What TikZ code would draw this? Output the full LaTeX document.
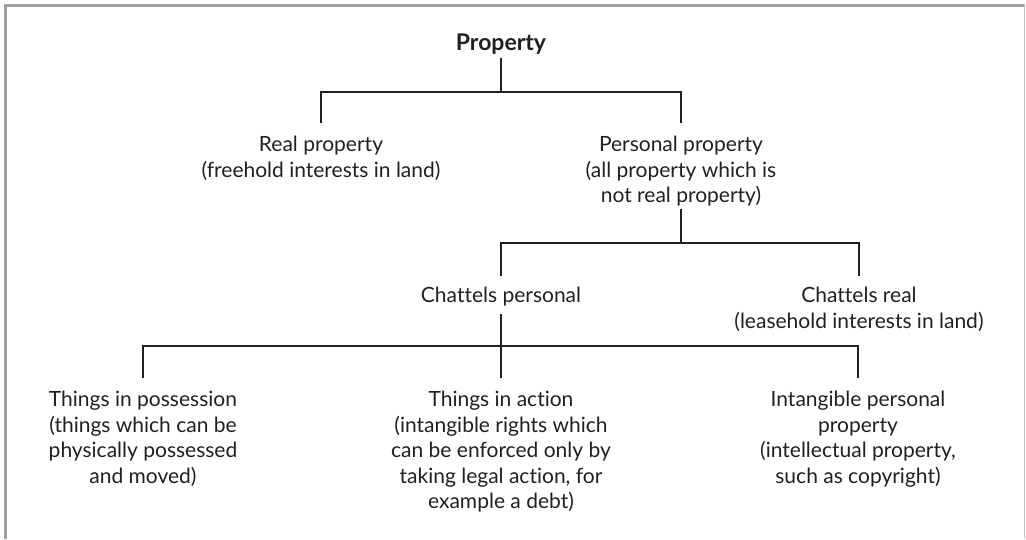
\documentclass[tikz,border=0pt]{standalone}
\usepackage{fontspec}
\setmainfont{Lato}[Ligatures={NoCommon,NoRare,NoDiscretionary}]
\usepackage{xcolor}
\usepackage{tikz}
\usetikzlibrary{positioning}
\definecolor{ink}{HTML}{231F20}
\definecolor{framegray}{HTML}{A0A0A0}

\begin{document}
\begin{tikzpicture}[x=1pt,y=-1pt,
  lbl/.style={align=center,anchor=north,inner sep=0pt,text=ink,font=\fontsize{21}{25.5}\selectfont},
  branch/.style={draw=ink,line width=1.2pt}]
\useasboundingbox(0,0)rectangle(1026,539);
\draw[framegray,line width=3pt](5.5,539)--(5.5,5)--(1025,5);
\draw[gray!45,line width=1pt](1024.5,5)--(1024.5,539);
\node[lbl,font=\bfseries\fontsize{23}{27}\selectfont](prop)at(501,34){Property};
\node[lbl](real)at(321,136){Real property\\(freehold interests in land)};
\node[lbl](pers)at(681,136){Personal property\\(all property which is\\not real property)};
\node[lbl](chp)at(501,287){Chattels personal};
\node[lbl](chr)at(859,287){Chattels real\\(leasehold interests in land)};
\node[lbl](poss)at(143,391){Things in possession\\(things which can be\\physically possessed\\and moved)};
\node[lbl](act)at(501,391){Things in action\\(intangible rights which\\can be enforced only by\\taking legal action, for\\example a debt)};
\node[lbl](intg)at(858,391){Intangible personal\\property\\(intellectual property,\\such as copyright)};
\coordinate(b1)at(501,92);
\coordinate(b2)at(681,243);
\coordinate(b3)at(501,346);
\draw[branch,shorten <=3pt](prop.south)--(b1);
\draw[branch,shorten <=13pt,shorten >=13pt](real.north)|-(b1)-|(pers.north);
\draw[branch,shorten <=3pt](pers.south)--(b2);
\draw[branch,shorten <=11pt,shorten >=11pt](chp.north)|-(b2)-|(chr.north);
\draw[branch,shorten <=8pt,shorten >=13pt](chp.south)--(act.north);
\draw[branch,shorten <=13pt,shorten >=13pt](poss.north)|-(b3)-|(intg.north);
\end{tikzpicture}
\end{document}
